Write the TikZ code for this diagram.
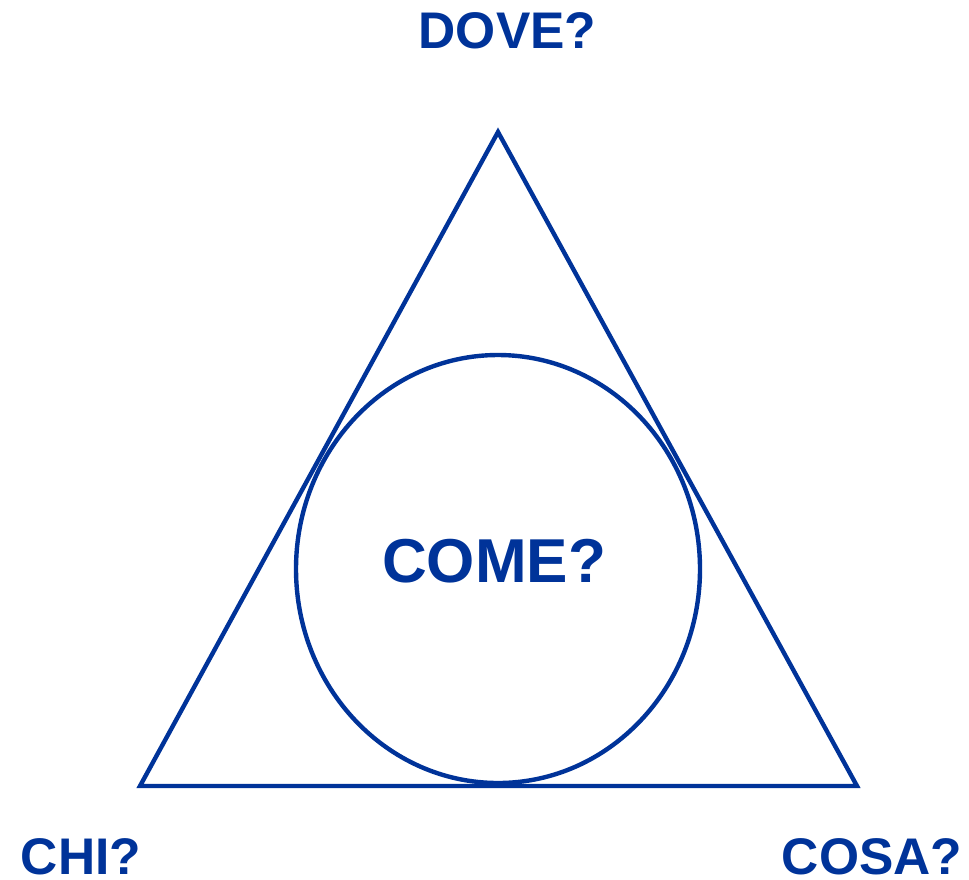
\documentclass[tikz,border=0pt]{standalone}
\usepackage{fontspec}
\setmainfont{Liberation Sans}
\usetikzlibrary{shapes.geometric}
\definecolor{dblue}{RGB}{0,51,153}
\tikzset{
  shapeline/.style={draw=dblue, line width=4.4pt, line join=miter},
  lbl/.style={text=dblue, font=\bfseries\fontsize{51.5}{60}\selectfont, inner sep=0pt, anchor=base, text depth=0pt},
  biglbl/.style={text=dblue, font=\bfseries\fontsize{62}{72}\selectfont, inner sep=0pt, anchor=base}
}
\begin{document}
\begin{tikzpicture}[x=1pt,y=-1pt]
\useasboundingbox (0,0) rectangle (969,879);
\coordinate (top) at (498,132);
\coordinate (bl) at (140,786);
\coordinate (br) at (857,786);
\draw[shapeline] (top) -- (bl) -- (br) -- cycle;
\node[shapeline, ellipse, minimum width=404pt, minimum height=428pt, inner sep=0pt, outer sep=0pt] (circ) at (498,569) {};
\node[lbl] (dove) at (507.5,48) {DOVE?};
\node[lbl] (chi) at (81,874) {CHI?};
\node[lbl] (cosa) at (872,874) {COSA?};
\node[biglbl] (come) at (494,582) {COME?};
\end{tikzpicture}
\end{document}
